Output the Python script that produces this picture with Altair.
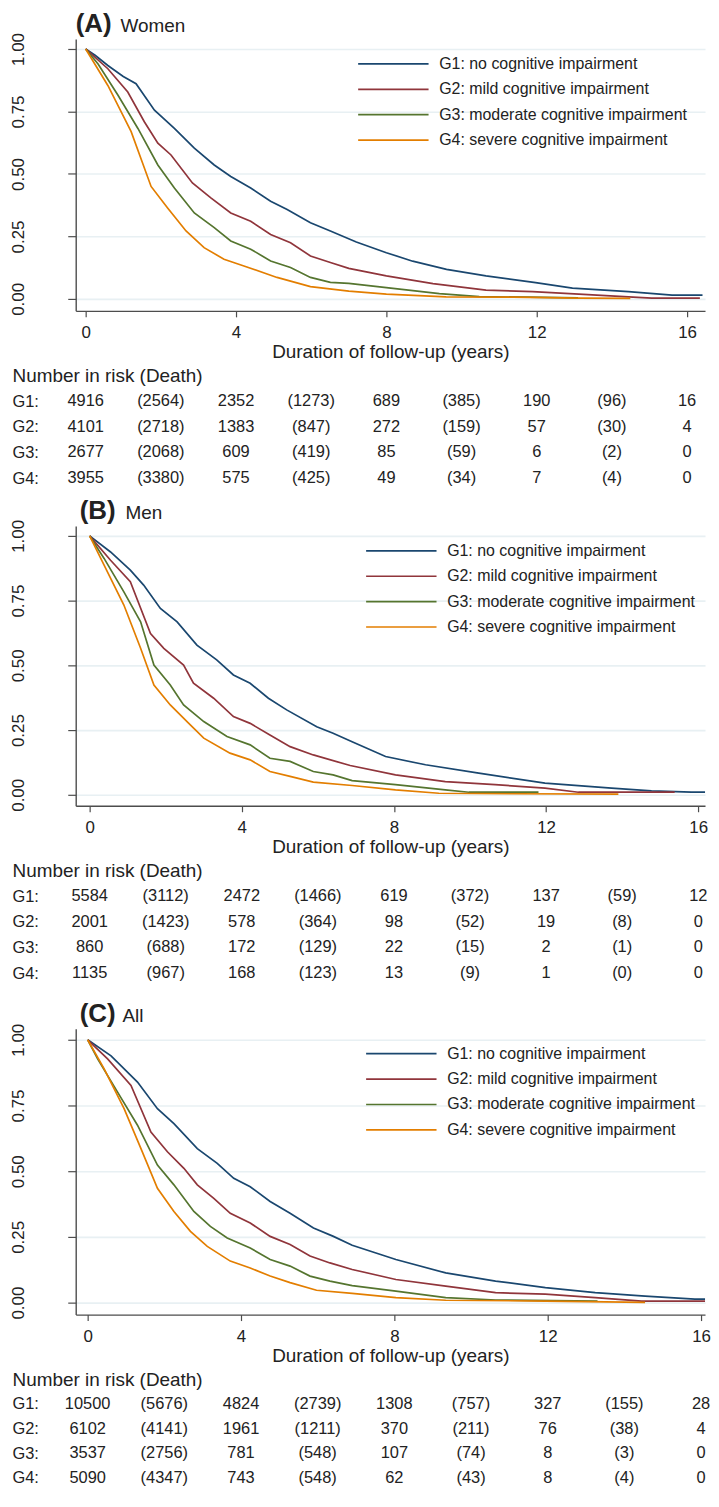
import altair as alt
import pandas as pd

FONT = "Liberation Sans, Arial, Helvetica, sans-serif"
TXT = "#222222"

GROUPS = ["G1: no cognitive impairment", "G2: mild cognitive impairment",
          "G3: moderate cognitive impairment", "G4: severe cognitive impairment"]
COLORS = ["#1a476f", "#90353b", "#55752f", "#e37e00"]
ROW_LABELS = ["G1:", "G2:", "G3:", "G4:"]
HEADER = "Number in risk (Death)"
RISK_T = [0, 4, 8, 12, 16]
DEATH_T = [2, 6, 10, 14]

# ---------------- Panel A: Women ----------------
A_G1_t = [0, 0.25, 0.59, 1.0, 1.34, 1.83, 2.36, 2.89, 3.42, 3.86, 4.39, 4.92, 5.36, 5.98, 6.51, 7.2, 8.0, 8.7, 9.6, 10.65, 11.97, 12.95, 14.44, 15.6, 16.41]
A_G1_s = [1, 0.975, 0.934, 0.89, 0.861, 0.755, 0.682, 0.603, 0.536, 0.49, 0.444, 0.391, 0.358, 0.305, 0.272, 0.228, 0.185, 0.151, 0.118, 0.092, 0.065, 0.043, 0.029, 0.015, 0.015]
A_G2_t = [0, 0.59, 1.12, 1.56, 1.92, 2.27, 2.84, 3.33, 3.86, 4.39, 4.92, 5.45, 5.98, 6.51, 7.0, 8.0, 9.24, 10.65, 11.89, 13.12, 14.44, 15.06, 16.34]
A_G2_s = [1, 0.921, 0.828, 0.709, 0.623, 0.576, 0.464, 0.404, 0.344, 0.311, 0.258, 0.225, 0.172, 0.146, 0.122, 0.092, 0.061, 0.035, 0.029, 0.019, 0.008, 0.003, 0.003]
A_G3_t = [0, 0.33, 0.86, 1.39, 1.92, 2.36, 2.89, 3.42, 3.86, 4.39, 4.92, 5.45, 5.98, 6.51, 7.0, 8.0, 9.41, 10.47, 11.8, 13.1]
A_G3_s = [1, 0.94, 0.815, 0.682, 0.536, 0.444, 0.344, 0.285, 0.232, 0.199, 0.152, 0.126, 0.086, 0.066, 0.062, 0.045, 0.021, 0.009, 0.007, 0.004]
A_G4_t = [0, 0.59, 1.21, 1.74, 2.18, 2.67, 3.15, 3.68, 4.21, 5.09, 5.98, 7.0, 8.0, 9.59, 11.36, 13.12, 14.49]
A_G4_s = [1, 0.854, 0.669, 0.45, 0.364, 0.272, 0.205, 0.159, 0.132, 0.086, 0.049, 0.031, 0.019, 0.008, 0.007, 0.003, 0.002]
A_RISK = [[4916, 2352, 689, 190, 16], [4101, 1383, 272, 57, 4], [2677, 609, 85, 6, 0], [3955, 575, 49, 7, 0]]
A_DEATH = [[2564, 1273, 385, 96], [2718, 847, 159, 30], [2068, 419, 59, 2], [3380, 425, 34, 4]]

# ---------------- Panel B: Men ----------------
B_G1_t = [0, 0.55, 1.07, 1.42, 1.86, 2.3, 2.82, 3.34, 3.78, 4.22, 4.7, 5.18, 5.97, 6.4, 6.9, 7.78, 8.83, 10.23, 11.97, 13.72, 14.77, 15.82, 16.4]
B_G1_s = [1, 0.938, 0.868, 0.81, 0.72, 0.668, 0.578, 0.521, 0.463, 0.431, 0.373, 0.328, 0.263, 0.238, 0.205, 0.148, 0.116, 0.084, 0.045, 0.026, 0.015, 0.010, 0.010]
B_G2_t = [0, 0.55, 1.07, 1.6, 1.95, 2.47, 2.73, 3.26, 3.78, 4.22, 4.74, 5.27, 5.88, 6.85, 8.04, 9.35, 10.66, 11.97, 12.85, 15.38]
B_G2_s = [1, 0.906, 0.823, 0.623, 0.566, 0.501, 0.431, 0.373, 0.302, 0.276, 0.231, 0.186, 0.154, 0.113, 0.077, 0.051, 0.039, 0.026, 0.010, 0.010]
B_G3_t = [0, 0.38, 0.9, 1.34, 1.69, 2.12, 2.47, 3.0, 3.61, 4.22, 4.74, 5.27, 5.88, 6.4, 6.9, 8.04, 9.35, 9.97, 11.8]
B_G3_s = [1, 0.913, 0.784, 0.668, 0.501, 0.424, 0.347, 0.283, 0.225, 0.193, 0.141, 0.129, 0.09, 0.077, 0.055, 0.039, 0.019, 0.010, 0.010]
B_G4_t = [0, 0.38, 0.9, 1.34, 1.69, 2.12, 2.56, 3.0, 3.69, 4.22, 4.74, 5.27, 5.88, 6.9, 8.04, 9.18, 11.1, 13.9]
B_G4_s = [1, 0.887, 0.733, 0.566, 0.424, 0.347, 0.283, 0.219, 0.161, 0.135, 0.09, 0.071, 0.049, 0.036, 0.019, 0.006, 0.004, 0.003]
B_RISK = [[5584, 2472, 619, 137, 12], [2001, 578, 98, 19, 0], [860, 172, 22, 2, 0], [1135, 168, 13, 1, 0]]
B_DEATH = [[3112, 1466, 372, 59], [1423, 364, 52, 8], [688, 129, 15, 1], [967, 123, 9, 0]]

# ---------------- Panel C: All ----------------
C_G1_t = [0, 0.61, 1.3, 1.82, 2.25, 2.86, 3.38, 3.81, 4.24, 4.76, 5.28, 5.89, 6.41, 6.9, 8.04, 9.34, 10.64, 11.94, 13.24, 14.54, 15.84, 16.33]
C_G1_s = [1, 0.939, 0.839, 0.738, 0.681, 0.586, 0.53, 0.473, 0.441, 0.385, 0.34, 0.284, 0.252, 0.218, 0.164, 0.113, 0.082, 0.057, 0.038, 0.025, 0.013, 0.013]
C_G2_t = [0, 0.52, 1.13, 1.65, 2.08, 2.51, 2.86, 3.29, 3.72, 4.24, 4.76, 5.28, 5.8, 6.32, 6.9, 8.04, 9.34, 10.64, 11.94, 13.24, 14.45, 16.33]
C_G2_s = [1, 0.927, 0.826, 0.649, 0.574, 0.511, 0.448, 0.397, 0.34, 0.303, 0.252, 0.221, 0.177, 0.151, 0.126, 0.088, 0.063, 0.038, 0.032, 0.019, 0.006, 0.006]
C_G3_t = [0, 0.26, 0.78, 1.3, 1.82, 2.25, 2.77, 3.2, 3.64, 4.24, 4.76, 5.28, 5.8, 6.32, 6.9, 8.04, 9.34, 10.64, 13.3]
C_G3_s = [1, 0.927, 0.801, 0.675, 0.523, 0.448, 0.347, 0.29, 0.246, 0.208, 0.164, 0.139, 0.101, 0.082, 0.065, 0.044, 0.019, 0.010, 0.006]
C_G4_t = [0, 0.43, 0.95, 1.39, 1.82, 2.25, 2.68, 3.12, 3.72, 4.24, 4.76, 5.28, 5.97, 6.9, 8.04, 9.34, 11.94, 14.54]
C_G4_s = [1, 0.889, 0.738, 0.586, 0.435, 0.347, 0.271, 0.214, 0.158, 0.132, 0.101, 0.076, 0.047, 0.035, 0.019, 0.009, 0.006, 0.001]
C_RISK = [[10500, 4824, 1308, 327, 28], [6102, 1961, 370, 76, 4], [3537, 781, 107, 8, 0], [5090, 743, 62, 8, 0]]
C_DEATH = [[5676, 2739, 757, 155], [4141, 1211, 211, 38], [2756, 548, 74, 3], [4347, 548, 43, 4]]

W = 632


def panel(letter, name, curves, risk, deaths, xdom, ydom, height, leg_x, leg_y,
          name_x, letter_x, table_h, row_range):
    rows = []
    for g, (ts, ss) in zip(GROUPS, curves):
        for t, s in zip(ts, ss):
            rows.append({"group": g, "t": t, "s": s})
    df = pd.DataFrame(rows)
    xs = alt.Scale(domain=xdom, nice=False, zero=False)
    ys = alt.Scale(domain=ydom, nice=False, zero=False)

    lines = alt.Chart(df).mark_line(clip=True, strokeWidth=1.7).encode(
        x=alt.X("t:Q", scale=xs,
                axis=alt.Axis(values=[0, 4, 8, 12, 16], title="Duration of follow-up (years)",
                              grid=False, tickSize=6, labelPadding=8, labelFontSize=17,
                              titleFontSize=19, titleFontWeight="normal", titlePadding=2,
                              labelFlush=False)),
        y=alt.Y("s:Q", scale=ys,
                axis=alt.Axis(values=[0, 0.25, 0.5, 0.75, 1], format=".2f", title=None,
                              labelAngle=270, labelAlign="center", labelBaseline="alphabetic",
                              tickSize=8, labelPadding=44, labelFontSize=17,
                              grid=True, gridColor="#e8f0f3", gridWidth=1.6)),
        color=alt.Color("group:N", scale=alt.Scale(domain=GROUPS, range=COLORS),
                        legend=alt.Legend(orient="none", legendX=leg_x, legendY=leg_y,
                                          offset=0, title=None, symbolType="M-5,0H5",
                                          symbolSize=200, symbolStrokeWidth=1.7,
                                          symbolOffset=28, labelOffset=38, labelFontSize=16,
                                          labelColor=TXT, rowPadding=9.5, padding=0,
                                          labelLimit=400)),
        order=alt.Order("t:Q"),
    )
    tdf = pd.DataFrame({"a": [letter], "b": [name]})
    t1 = alt.Chart(tdf).mark_text(fontSize=26, fontWeight="bold", align="left",
                                  baseline="alphabetic", color=TXT).encode(
        text="a:N", x=alt.value(letter_x), y=alt.value(-7))
    t2 = alt.Chart(tdf).mark_text(fontSize=19, align="left", baseline="alphabetic",
                                  color=TXT).encode(
        text="b:N", x=alt.value(name_x), y=alt.value(-7))
    plot = alt.layer(lines, t1, t2).properties(width=W, height=height)

    trows = []
    for gi, lab in enumerate(ROW_LABELS):
        for t, v in zip(RISK_T, risk[gi]):
            trows.append({"row": lab, "t": t, "txt": str(v)})
        for t, v in zip(DEATH_T, deaths[gi]):
            trows.append({"row": lab, "t": t, "txt": "(%d)" % v})
    tab = alt.Chart(pd.DataFrame(trows)).mark_text(fontSize=16.5, color=TXT).encode(
        x=alt.X("t:Q", scale=alt.Scale(domain=xdom, nice=False, zero=False), axis=None),
        y=alt.Y("row:N",
                scale=alt.Scale(type="point", domain=[HEADER] + ROW_LABELS,
                                range=row_range, padding=0),
                axis=alt.Axis(title=None, domain=False, ticks=False, tickSize=0,
                              labelAlign="left", labelBaseline="middle", labelPadding=64,
                              labelLimit=400, labelColor=TXT,
                              labelFontSize={"condition": {"test": "datum.value === '%s'" % HEADER,
                                                           "value": 19}, "value": 16.5})),
        text="txt:N",
    ).properties(width=W, height=table_h)
    return plot, tab


# x domains keep the reference tick positions; plot area ends at page x = 710
pA, tA = panel("(A)", "Women", [(A_G1_t, A_G1_s), (A_G2_t, A_G2_s), (A_G3_t, A_G3_s), (A_G4_t, A_G4_s)],
               A_RISK, A_DEATH, [-0.265, 16.477], [-0.0478, 1.0398], 273, 283, 17, 45, 0, 216, [65, 168])
pB, tB = panel("(B)", "Men", [(B_G1_t, B_G1_s), (B_G2_t, B_G2_s), (B_G3_t, B_G3_s), (B_G4_t, B_G4_s)],
               B_RISK, B_DEATH, [-0.366, 16.178], [-0.0423, 1.0385], 281, 291, 17, 50, 4, 224, [65, 168])
pC, tC = panel("(C)", "All", [(C_G1_t, C_G1_s), (C_G2_t, C_G2_s), (C_G3_t, C_G3_s), (C_G4_t, C_G4_s)],
               C_RISK, C_DEATH, [-0.312, 16.104], [-0.0455, 1.0417], 287, 291, 17, 47, 4, 150, [65, 164])

chart = alt.vconcat(pA, tA, pB, tB, pC, tC, spacing=0, bounds="flush").resolve_scale(
    color="independent", x="independent", y="independent"
).resolve_legend(color="independent").properties(
    padding={"left": 2, "top": 0, "right": 0, "bottom": 0}
).configure_view(stroke=None).configure_axis(
    labelFont=FONT, titleFont=FONT, labelColor=TXT, titleColor=TXT,
    domainColor="#4d4d4d", tickColor="#4d4d4d", domainWidth=1.4, tickWidth=1.2
).configure_text(font=FONT).configure_legend(labelFont=FONT)

chart.save("out.html", embed_options={"renderer": "svg", "actions": False})
